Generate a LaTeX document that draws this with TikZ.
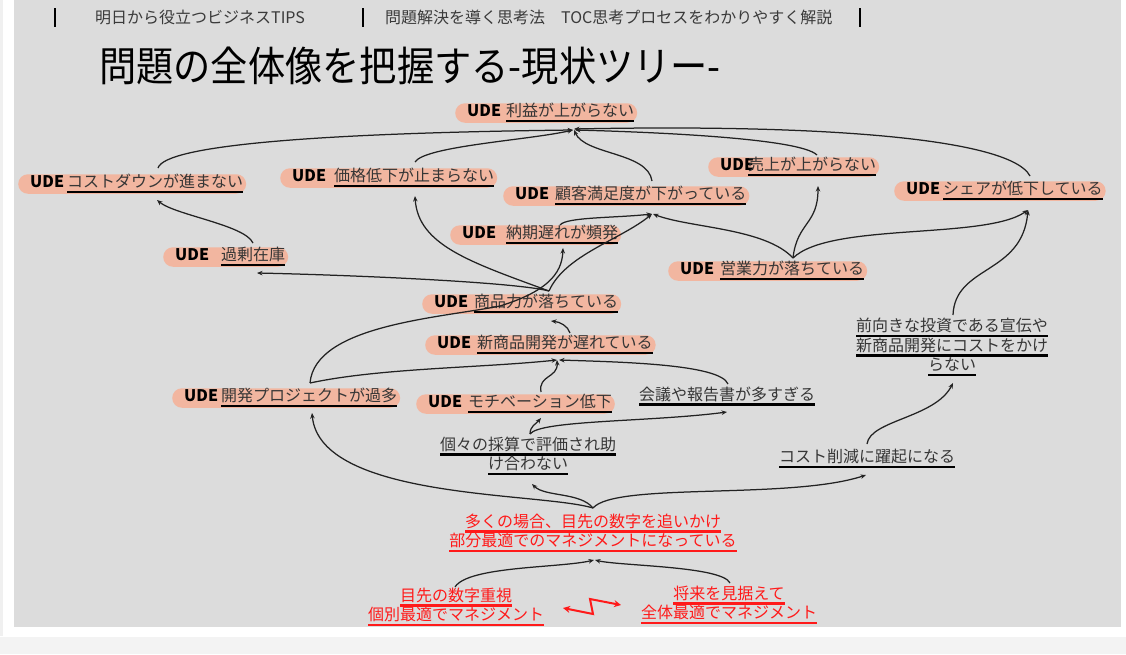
\documentclass[tikz,border=0pt]{standalone}
\usepackage{fontspec}
\setmainfont{Noto Sans CJK JP}
\usetikzlibrary{arrows.meta,calc}
\definecolor{bgc}{HTML}{DCDCDC}
\definecolor{stripc}{HTML}{F3F3F3}
\definecolor{pillc}{HTML}{F2B6A0}
\definecolor{txtc}{HTML}{363636}
\definecolor{redc}{HTML}{FF1A1A}
\definecolor{linec}{HTML}{222222}
\definecolor{headc}{HTML}{3A3A3A}
\newcommand\ulk[1]{\setbox0=\hbox{\color{txtc}#1}\rlap{\color{black}\rule[-5.5pt]{\wd0}{2.4pt}}\box0}
\newcommand\ulr[1]{\setbox0=\hbox{#1}\rlap{\rule[-5.5pt]{\wd0}{2.4pt}}\box0}
\newcommand\udetext[2]{\hspace*{9pt}{\bfseries UDE}\hspace*{#1}\ulk{#2}}
\tikzset{
  udebox/.style={anchor=west, fill=pillc, rounded corners=9.75pt, inner xsep=3pt, inner ysep=0.5pt,
    text height=13pt, text depth=5.5pt, font=\fontsize{16}{19.5}\selectfont, text=black},
  plainbox/.style={align=center, inner sep=0pt, font=\fontsize{16}{19.5}\selectfont},
  redbox/.style={plainbox, text=redc},
  conn/.style={draw=linec, line width=1.25pt, -{Stealth[length=5.5pt,width=4.5pt]}},
  redarr/.style={draw=redc, line width=2pt, {Stealth[length=7pt,width=7pt]}-{Stealth[length=7pt,width=7pt]}},
  headtxt/.style={anchor=west, inner sep=0pt, text=headc, font=\fontsize{16}{18}\selectfont},
  bar/.style={draw=black, line width=1.4pt}
}
\begin{document}
\begin{tikzpicture}[x=1pt,y=-1pt]
\useasboundingbox (0,0) rectangle (1126,654);
\fill[white] (0,0) rectangle (1126,654);
\fill[black!6] (0,0) rectangle (3,636);
\fill[bgc] (14,0) rectangle (1121,627);
\fill[stripc] (0,637) rectangle (1126,654);

% header
\draw[bar] (55,8) -- (55,27);
\draw[bar] (363,8) -- (363,27);
\draw[bar] (860,8) -- (860,27);
\node[headtxt] (h1) at (95,17) {明日から役立つビジネスTIPS};
\node[headtxt] (h2) at (385,17) {問題解決を導く思考法　TOC思考プロセスをわかりやすく解説};
\node[anchor=west, inner sep=0pt, font=\fontsize{38}{40}\selectfont] (title) at (99,66) {\scalebox{0.98}[1.08]{問題の全体像を把握する-現状ツリー-}};

% UDE nodes
\node[udebox] (r)  at (455,113) {\udetext{5pt}{利益が上がらない}};
\node[udebox] (cd) at (18,184)  {\udetext{3pt}{コストダウンが進まない}};
\node[udebox] (kk) at (280,178) {\udetext{8pt}{価格低下が止まらない}};
\node[udebox] (cs) at (503,196) {\udetext{6pt}{顧客満足度が下がっている}};
\node[udebox] (ur) at (708,167) {\udetext{-6pt}{売上が上がらない}};
\node[udebox] (sh) at (894,191) {\udetext{3pt}{シェアが低下している}};
\node[udebox] (nk) at (450,235) {\udetext{10pt}{納期遅れが頻発}};
\node[udebox] (kz) at (163,257) {\udetext{12pt}{過剰在庫}};
\node[udebox] (ey) at (668,271) {\udetext{6pt}{営業力が落ちている}};
\node[udebox] (sp) at (422,304) {\udetext{6pt}{商品力が落ちている}};
\node[udebox] (sn) at (425,345) {\udetext{6pt}{新商品開発が遅れている}};
\node[udebox] (kp) at (172,398) {\udetext{3pt}{開発プロジェクトが過多}};
\node[udebox] (mc) at (416,404) {\udetext{6pt}{モチベーション低下}};

% plain nodes
\node[plainbox] (kg)  at (727,396) {\ulk{会議や報告書が多すぎる}};
\node[plainbox] (kb)  at (528,456) {\ulk{個々の採算で評価され助}\\\ulk{け合わない}};
\node[plainbox] (mk)  at (952,347) {\ulk{前向きな投資である宣伝や}\\\ulk{新商品開発にコストをかけ}\\\ulk{らない}};
\node[plainbox] (cs2) at (867,459) {\ulk{コスト削減に躍起になる}};
\node[redbox] (ok) at (593,533) {\ulr{多くの場合、目先の数字を追いかけ}\\\ulr{部分最適でのマネジメントになっている}};
\node[redbox] (mr) at (456,607) {\ulr{目先の数字重視}\\\ulr{個別最適でマネジメント}};
\node[redbox] (sr) at (729,605) {\ulr{将来を見据えて}\\\ulr{全体最適でマネジメント}};

% connectors to 利益
\draw[conn] ([shift={(140,-16)}]cd.west) .. controls (165,145) and (320,133) .. ([shift={(118,17)}]r.west);
\draw[conn] ([shift={(135,-16)}]kk.west) .. controls (425,146) and (530,140) .. ([shift={(118,17)}]r.west);
\draw[conn] ([shift={(149,-15)}]cs.west) .. controls (648,152) and (585,155) .. ([shift={(119,17)}]r.west);
\draw[conn] ([shift={(109,-12)}]ur.west) .. controls (800,138) and (650,132) .. ([shift={(120,17)}]r.west);
\draw[conn] ([shift={(136,-15)}]sh.west) .. controls (1010,138) and (820,124) .. ([shift={(119,16)}]r.west);

% connectors to 顧客満足度
\draw[conn] ([shift={(110,-10)}]nk.west) .. controls (566,217) and (615,218) .. ([shift={(149,18)}]cs.west);
\draw[conn] ([shift={(127,-13)}]sp.west) .. controls (565,255) and (620,240) .. ([shift={(149,18)}]cs.west);
\draw[conn] ([shift={(125,-13)}]ey.west) .. controls (765,228) and (690,228) .. ([shift={(150,18)}]cs.west);

% from 商品力
\draw[conn] ([shift={(127,-13)}]sp.west) .. controls (515,282) and (350,275) .. ([shift={(94,16)}]kz.west);
\draw[conn] ([shift={(127,-13)}]sp.west) .. controls (470,262) and (418,245) .. ([shift={(135,18)}]kk.west);

% from 営業力
\draw[conn] ([shift={(125,-13)}]ey.west) .. controls (797,222) and (818,225) .. ([shift={(110,19)}]ur.west);
\draw[conn] ([shift={(125,-13)}]ey.west) .. controls (830,222) and (985,240) .. ([shift={(134,19)}]sh.west);

% 前向き -> シェア
\draw[conn] ([shift={(1,-32)}]mk.center) .. controls (955,265) and (1022,275) .. ([shift={(134,19)}]sh.west);

% 過剰在庫 -> コストダウン
\draw[conn] ([shift={(90,-14)}]kz.west) .. controls (245,225) and (175,215) .. ([shift={(139,16)}]cd.west);

% 開発プロジェクト
\draw[conn] ([shift={(138,-15)}]kp.west) .. controls (315,325) and (440,318) .. (500,306) .. controls (545,292) and (562,275) .. ([shift={(113,13)}]nk.west);
\draw[conn] ([shift={(138,-15)}]kp.west) .. controls (380,368) and (480,368) .. ([shift={(132,15)}]sn.west);

% to 新商品開発
\draw[conn] ([shift={(125,-12)}]mc.west) .. controls (538,375) and (558,378) .. ([shift={(132,15)}]sn.west);
\draw[conn] ([shift={(1,-12)}]kg.center) .. controls (720,364) and (620,362) .. ([shift={(134,15)}]sn.west);
\draw[conn] ([shift={(145,-12)}]sn.west) .. controls (568,326) and (560,322) .. ([shift={(129,17)}]sp.west);

% 個々の採算
\draw[conn] ([shift={(2,-22)}]kb.center) .. controls (530,426) and (536,424) .. ([shift={(125,14)}]mc.west);
\draw[conn] ([shift={(2,-22)}]kb.center) .. controls (540,420) and (650,422) .. ([shift={(0,16)}]kg.center);

% 多くの場合
\draw[conn] ([shift={(0,-25)}]ok.center) .. controls (580,492) and (545,497) .. ([shift={(4,28)}]kb.center);
\draw[conn] ([shift={(0,-25)}]ok.center) .. controls (615,482) and (790,500) .. ([shift={(-1,16)}]cs2.center);
\draw[conn] ([shift={(0,-25)}]ok.center) .. controls (540,492) and (320,500) .. ([shift={(140,15)}]kp.west);

% コスト削減 -> 前向き
\draw[conn] ([shift={(0,-15)}]cs2.center) .. controls (870,420) and (935,418) .. ([shift={(1,36)}]mk.center);

% bottom
\draw[conn] ([shift={(-1,-20)}]mr.center) .. controls (468,566) and (560,568) .. ([shift={(1,27)}]ok.center);
\draw[conn] ([shift={(1,-22)}]sr.center) .. controls (722,566) and (620,566) .. ([shift={(2,27)}]ok.center);
\draw[redarr] ([shift={(107,1)}]mr.center) -- (593,614) -- (590,599) -- ([shift={(-108,0)}]sr.center);
\end{tikzpicture}
\end{document}
